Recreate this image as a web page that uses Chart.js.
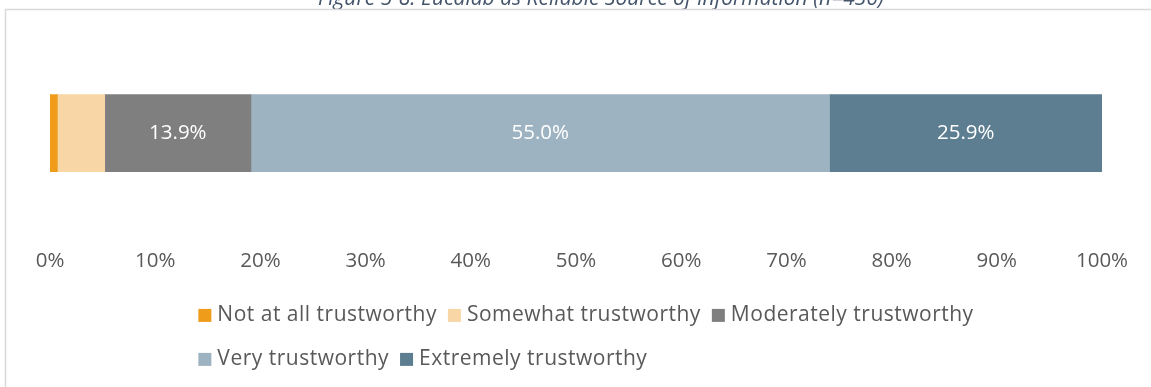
<!DOCTYPE html>
<html>
<head>
<meta charset="utf-8">
<script src="https://cdn.jsdelivr.net/npm/chart.js@4.4.1/dist/chart.umd.min.js"></script>
<style>
  html, body { margin: 0; padding: 0; background: #fff; }
</style>
</head>
<body>
<canvas id="trust" width="1151" height="387"></canvas>
<script>
const categories = [""];
const seriesNames = [
  "Not at all trustworthy",
  "Somewhat trustworthy",
  "Moderately trustworthy",
  "Very trustworthy",
  "Extremely trustworthy",
];
const notAtAll = [0.7];
const somewhat = [4.5];
const moderately = [13.9];
const very = [55.0];
const extremely = [25.9];
const tickValues = [0, 10, 20, 30, 40, 50, 60, 70, 80, 90, 100];
const showValue = [false, false, true, true, true];
const colors = ["#F09C1B", "#F8D6A5", "#7F7F7F", "#9DB3C1", "#5C7E90"];

const family = "'Open Sans', Lato, sans-serif";
const fontSize = 20.5;
const legendSize = 21;
const textColor = "#595959";
const titleText = "Figure 5-8: Eucalab as Reliable Source of Information (n=436)";

// frame and the clipped caption at the top
const framePlugin = {
  id: "frame",
  beforeDraw(chart) {
    const ctx = chart.ctx;
    ctx.save();
    ctx.fillStyle = "#fff";
    ctx.fillRect(0, 0, chart.width, chart.height);
    ctx.font = "italic 21px " + family;
    ctx.fillStyle = "#44546A";
    ctx.textAlign = "center";
    ctx.textBaseline = "alphabetic";
    ctx.fillText(titleText, 601, 5);
    ctx.strokeStyle = "#D9D9D9";
    ctx.lineWidth = 1.5;
    ctx.beginPath();
    ctx.moveTo(5.5, chart.height);
    ctx.lineTo(5.5, 9.5);
    ctx.lineTo(chart.width, 9.5);
    ctx.stroke();
    ctx.restore();
  },
};

// white value labels inside the wider segments
const valuePlugin = {
  id: "values",
  afterDatasetsDraw(chart) {
    const ctx = chart.ctx;
    ctx.save();
    ctx.font = fontSize + "px " + family;
    ctx.fillStyle = "#fff";
    ctx.textAlign = "center";
    ctx.textBaseline = "middle";
    chart.data.datasets.forEach((ds, i) => {
      if (!showValue[i]) return;
      chart.getDatasetMeta(i).data.forEach((bar, j) => {
        const c = bar.getCenterPoint();
        ctx.fillText(ds.data[j].toFixed(1) + "%", c.x, c.y);
      });
    });
    ctx.restore();
  },
};

// two-row legend, second row starts under the first
const legendPlugin = {
  id: "rowLegend",
  afterDraw(chart) {
    const ctx = chart.ctx;
    const area = chart.chartArea;
    const box = 13, boxGap = 6, itemGap = 11, rowStep = 44;
    ctx.save();
    ctx.font = legendSize + "px " + family;
    ctx.letterSpacing = "0.5px";
    const items = chart.data.datasets.map((ds) => ({
      text: ds.label,
      color: ds.backgroundColor,
      w: box + boxGap + ctx.measureText(ds.label).width,
    }));
    const rows = [items.slice(0, 3), items.slice(3)];
    const rowWidth = (r) => r.reduce((s, it) => s + it.w, 0) + itemGap * (r.length - 1);
    const left = (area.left + area.right) / 2 + 10 - rowWidth(rows[0]) / 2;
    const top = area.bottom + 77;
    rows.forEach((row, i) => {
      let x = left;
      const y = top + i * rowStep;
      row.forEach((it) => {
        ctx.fillStyle = it.color;
        ctx.fillRect(x, y - box / 2, box, box);
        ctx.fillStyle = textColor;
        ctx.textBaseline = "middle";
        ctx.fillText(it.text, x + box + boxGap, y);
        x += it.w + itemGap;
      });
    });
    ctx.restore();
  },
};

const seriesValues = [notAtAll, somewhat, moderately, very, extremely];

new Chart(document.getElementById("trust"), {
  type: "bar",
  data: {
    labels: categories,
    datasets: seriesValues.map((vals, i) => ({
      label: seriesNames[i],
      data: vals,
      backgroundColor: colors[i],
      borderWidth: 0,
      barThickness: 77,
    })),
  },
  options: {
    indexAxis: "y",
    responsive: false,
    animation: false,
    devicePixelRatio: 1,
    layout: { padding: { top: 28, left: 50, right: 49, bottom: 104 } },
    plugins: {
      legend: { display: false },
      tooltip: { enabled: false },
    },
    scales: {
      x: {
        stacked: true,
        min: 0,
        max: 100,
        grid: { display: false, drawTicks: false },
        border: { display: false },
        afterBuildTicks: (scale) => {
          scale.ticks = tickValues.map((v) => ({ value: v }));
        },
        ticks: {
          padding: 10,
          color: textColor,
          font: { family: family, size: fontSize },
          maxRotation: 0,
          callback: (v) => v + "%",
        },
      },
      y: {
        stacked: true,
        display: false,
      },
    },
  },
  plugins: [framePlugin, valuePlugin, legendPlugin],
});
</script>
</body>
</html>
